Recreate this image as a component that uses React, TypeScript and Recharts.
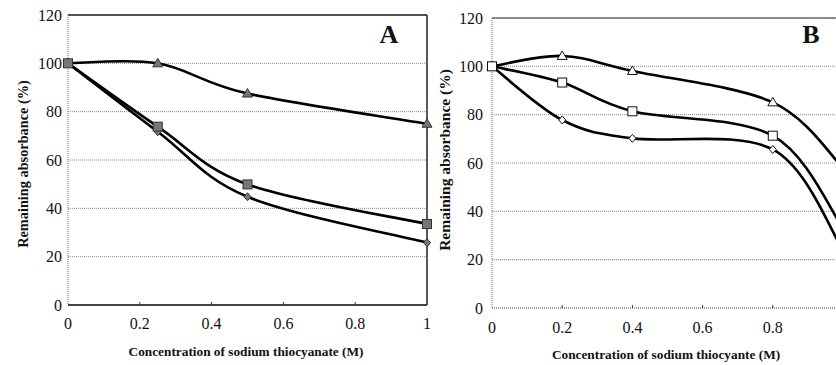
import React from 'react';
import { LineChart, Line, XAxis, YAxis, CartesianGrid, ReferenceLine } from 'recharts';

// Panel A data
const xA = [0, 0.25, 0.5, 1];
const triA = [100, 100, 87.5, 75];
const sqA = [100, 73.8, 49.9, 33.5];
const diaA = [100, 71.7, 44.8, 25.8];

// Panel B data
const xB = [0, 0.2, 0.4, 0.8, 1];
const triB = [100, 104.3, 98.1, 85.1, 58];
const sqB = [100, 93.3, 81.4, 71.3, 33];
const diaB = [100, 77.8, 70.2, 65.6, 24];

const xTicksA = [0, 0.2, 0.4, 0.6, 0.8, 1];
const xTicksB = [0, 0.2, 0.4, 0.6, 0.8];
const yTicks = [0, 20, 40, 60, 80, 100, 120];

const titleA = 'Concentration of sodium thiocyanate (M)';
const titleB = 'Concentration of sodium thiocyante (M)';
const yTitle = 'Remaining absorbance (%)';

const dataA = xA.map((x, i) => ({ x, tri: triA[i], sq: sqA[i], dia: diaA[i] }));
const dataB = xB.map((x, i) => ({ x, tri: triB[i], sq: sqB[i], dia: diaB[i] }));

const FONT = "'Liberation Serif', 'DejaVu Serif', serif";

// Excel-like smoothed curve (Catmull-Rom through points, bezier control at 1/6)
const smoothCurve: any = (context: any) => {
  let pts: number[][] = [];
  return {
    areaStart() {},
    areaEnd() {},
    lineStart() {
      pts = [];
    },
    point(x: number, y: number) {
      pts.push([+x, +y]);
    },
    lineEnd() {
      const n = pts.length;
      if (!n) return;
      context.moveTo(pts[0][0], pts[0][1]);
      for (let i = 0; i < n - 1; i++) {
        const p0 = pts[i - 1] || pts[i];
        const p1 = pts[i];
        const p2 = pts[i + 1];
        const p3 = pts[i + 2] || pts[i + 1];
        context.bezierCurveTo(
          p1[0] + (p2[0] - p0[0]) / 6,
          p1[1] + (p2[1] - p0[1]) / 6,
          p2[0] - (p3[0] - p1[0]) / 6,
          p2[1] - (p3[1] - p1[1]) / 6,
          p2[0],
          p2[1]
        );
      }
    },
  };
};

const makeDot = (shape: string, filled: boolean) => (p: any) => {
  const { cx, cy, index } = p;
  const key = `${shape}-${index}`;
  if (cx == null || cy == null) return <g key={key} />;
  const fill = filled ? '#777' : '#fff';
  const stroke = filled ? '#333' : '#111';
  const sw = 1;
  if (shape === 'tri') {
    return (
      <polygon
        key={key}
        points={`${cx},${cy - 5} ${cx - 5},${cy + 3.5} ${cx + 5},${cy + 3.5}`}
        fill={fill}
        stroke={stroke}
        strokeWidth={sw}
      />
    );
  }
  if (shape === 'sq') {
    return (
      <rect key={key} x={cx - 4.5} y={cy - 4.5} width={9} height={9} fill={fill} stroke={stroke} strokeWidth={sw} />
    );
  }
  return (
    <polygon
      key={key}
      points={`${cx},${cy - 4} ${cx + 3.5},${cy} ${cx},${cy + 4} ${cx - 3.5},${cy}`}
      fill={fill}
      stroke={stroke}
      strokeWidth={sw}
    />
  );
};

const makeXTick = (axisY: number) => (props: any) => {
  const { x, y, payload, index } = props;
  return (
    <g key={`xt-${index}`}>
      {payload.value !== 0 && payload.value !== 1 && (
        <line x1={x} x2={x} y1={axisY} y2={axisY - 3} stroke="#333" strokeWidth={1} />
      )}
      <text x={x} y={y} dy="0.71em" textAnchor="middle" style={{ fontFamily: FONT }} fontSize={16} fill="#111">
        {payload.value}
      </text>
    </g>
  );
};

const makeYTick = () => (props: any) => {
  const { x, y, payload, index } = props;
  return (
    <text
      key={`yt-${index}`}
      x={x}
      y={y}
      dy="0.355em"
      textAnchor="end"
      style={{ fontFamily: FONT }}
      fontSize={16}
      fill="#111"
    >
      {payload.value}
    </text>
  );
};

const lineProps = {
  stroke: '#000',
  strokeWidth: 2.6,
  isAnimationActive: false,
  type: smoothCurve,
};

const textBase: React.CSSProperties = {
  position: 'absolute',
  fontFamily: FONT,
  fontWeight: 'bold',
  whiteSpace: 'nowrap',
  lineHeight: 1,
  color: '#111',
};

export default function App() {
  return (
    <div
      style={{
        position: 'absolute',
        left: 0,
        top: 0,
        width: 836,
        height: 365,
        overflow: 'hidden',
        background: '#fff',
        fontFamily: FONT,
      }}
    >
      {/* Panel A */}
      <div style={{ position: 'absolute', left: 0, top: 0 }}>
        <LineChart width={440} height={365} data={dataA} margin={{ top: 15, right: 13, left: 28, bottom: 30 }}>
          <CartesianGrid vertical={false} stroke="#888" strokeDasharray="1 1" strokeWidth={1} />
          <XAxis
            dataKey="x"
            type="number"
            domain={[0, 1]}
            ticks={xTicksA}
            height={30}
            tickSize={0}
            tickMargin={13}
            tickLine={false}
            axisLine={{ stroke: '#111', strokeWidth: 1.5 }}
            tick={makeXTick(305)}
          />
          <YAxis
            type="number"
            domain={[0, 120]}
            ticks={yTicks}
            width={40}
            tickSize={0}
            tickMargin={6}
            tickLine={false}
            axisLine={{ stroke: '#777', strokeDasharray: '1 1' }}
            tick={makeYTick()}
          />
          <ReferenceLine y={120} stroke="#222" strokeWidth={1.5} />
          <ReferenceLine x={1} stroke="#222" strokeWidth={1.5} />
          <Line dataKey="tri" {...lineProps} dot={makeDot('tri', true)} />
          <Line dataKey="dia" {...lineProps} dot={makeDot('dia', true)} />
          <Line dataKey="sq" {...lineProps} dot={makeDot('sq', true)} />
        </LineChart>
      </div>
      {/* Panel B */}
      <div style={{ position: 'absolute', left: 420, top: 0 }}>
        <LineChart width={433} height={365} data={dataB} margin={{ top: 18, right: 10, left: 32, bottom: 27 }}>
          <CartesianGrid vertical={false} stroke="#888" strokeDasharray="1 1" strokeWidth={1} />
          <XAxis
            dataKey="x"
            type="number"
            domain={[0, 1]}
            ticks={xTicksB}
            height={30}
            tickSize={0}
            tickMargin={14}
            tickLine={false}
            axisLine={{ stroke: '#777', strokeDasharray: '1 1' }}
            tick={makeXTick(308)}
          />
          <YAxis
            type="number"
            domain={[0, 120]}
            ticks={yTicks}
            width={40}
            tickSize={0}
            tickMargin={9}
            tickLine={false}
            axisLine={{ stroke: '#777', strokeDasharray: '1 1' }}
            tick={makeYTick()}
          />
          <ReferenceLine y={120} stroke="#333" strokeWidth={1.2} />
          <Line dataKey="tri" {...lineProps} dot={makeDot('tri', false)} />
          <Line dataKey="dia" {...lineProps} dot={makeDot('dia', false)} />
          <Line dataKey="sq" {...lineProps} dot={makeDot('sq', false)} />
        </LineChart>
      </div>

      {/* Titles and panel letters */}
      <div style={{ ...textBase, left: 389, top: 43, transform: 'translate(-50%, -80%)', fontSize: 26 }}>A</div>
      <div style={{ ...textBase, left: 811, top: 43, transform: 'translate(-50%, -80%)', fontSize: 26 }}>B</div>
      <div style={{ ...textBase, left: 246, top: 352, transform: 'translate(-50%, -50%)', fontSize: 13.3 }}>
        {titleA}
      </div>
      <div style={{ ...textBase, left: 666, top: 355, transform: 'translate(-50%, -50%)', fontSize: 13.3 }}>
        {titleB}
      </div>
      <div
        style={{
          ...textBase,
          left: 23,
          top: 164,
          transform: 'translate(-50%, -50%) rotate(-90deg)',
          fontSize: 14.3,
        }}
      >
        {yTitle}
      </div>
      <div
        style={{
          ...textBase,
          left: 445,
          top: 160,
          transform: 'translate(-50%, -50%) rotate(-90deg)',
          fontSize: 15.5,
        }}
      >
        {yTitle}
      </div>
    </div>
  );
}
